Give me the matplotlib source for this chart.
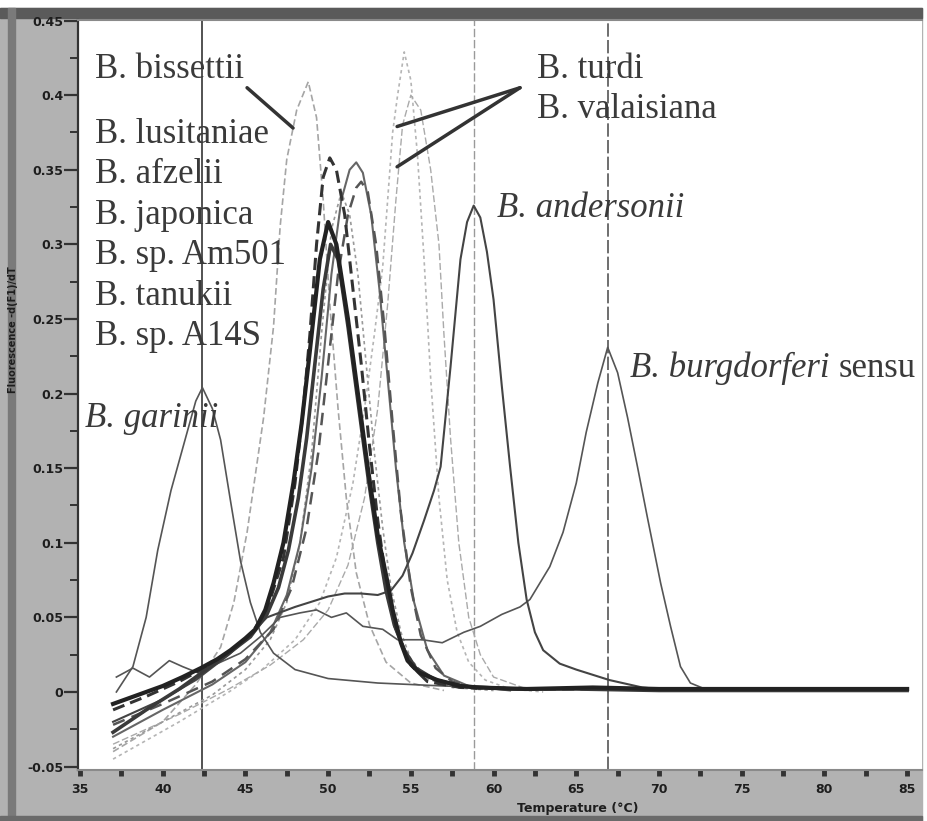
import numpy as np
import matplotlib
matplotlib.use("Agg")
import matplotlib.pyplot as plt
from matplotlib.patches import Rectangle

# melting peak data (temperature in C, -dF/dT)
garinii_t = [37.2, 38.2, 39.0, 39.7, 40.5, 41.35, 42.0, 42.4, 43.0, 43.5, 44.1, 44.7, 45.3, 45.9, 46.7, 48.0, 50.0, 53.0, 57.0, 60.0, 65.0]
garinii_v = [0.0, 0.017, 0.05, 0.095, 0.135, 0.169, 0.195, 0.204, 0.19, 0.169, 0.128, 0.088, 0.06, 0.04, 0.026, 0.015, 0.009, 0.006, 0.004, 0.003, 0.002]

bissettii_t = [37.0, 40.0, 42.0, 43.5, 44.3, 45.1, 46.1, 46.7, 47.1, 47.5, 48.1, 48.8, 49.3, 49.7, 50.1, 50.6, 51.1, 51.7, 52.5, 53.5, 55.0, 57.0]
bissettii_v = [-0.040, -0.020, 0.005, 0.030, 0.060, 0.107, 0.184, 0.245, 0.312, 0.357, 0.390, 0.409, 0.385, 0.330, 0.260, 0.190, 0.130, 0.080, 0.045, 0.020, 0.006, 0.001]

lusitaniae_t = [37.0, 39.0, 41.0, 42.5, 44.0, 45.3, 46.3, 47.3, 48.0, 48.5, 48.9, 49.3, 49.7, 50.1, 50.5, 51.0, 51.5, 52.0, 52.5, 53.0, 53.5, 54.0, 55.0, 56.0, 58.0, 62.0, 70.0, 85.0]
lusitaniae_v = [-0.012, -0.003, 0.007, 0.016, 0.026, 0.038, 0.055, 0.09, 0.14, 0.19, 0.24, 0.30, 0.345, 0.358, 0.35, 0.32, 0.27, 0.22, 0.165, 0.115, 0.075, 0.045, 0.018, 0.007, 0.003, 0.002, 0.002, 0.002]

afzelii_t = [37.0, 40.0, 43.0, 45.0, 46.5, 47.5, 48.3, 49.0, 49.6, 50.2, 50.8, 51.3, 51.7, 52.1, 52.6, 53.1, 53.6, 54.1, 54.6, 55.2, 56.0, 57.0, 58.5, 61.0]
afzelii_v = [-0.030, -0.012, 0.005, 0.02, 0.04, 0.065, 0.10, 0.15, 0.21, 0.28, 0.33, 0.35, 0.355, 0.348, 0.32, 0.27, 0.21, 0.15, 0.10, 0.06, 0.028, 0.011, 0.004, 0.001]

japonica_t = [37.0, 40.0, 43.0, 45.0, 46.7, 47.8, 48.7, 49.4, 50.0, 50.6, 51.2, 51.7, 52.0, 52.4, 52.9, 53.4, 53.9, 54.4, 55.0, 55.6, 56.5, 57.5, 59.0]
japonica_v = [-0.022, -0.008, 0.007, 0.022, 0.042, 0.07, 0.11, 0.16, 0.22, 0.28, 0.32, 0.338, 0.342, 0.335, 0.30, 0.245, 0.18, 0.12, 0.07, 0.038, 0.016, 0.007, 0.002]

am501_t = [37.0, 38.5, 40.0, 41.2, 42.3, 43.3, 44.1, 45.0, 45.6, 46.2, 46.7, 47.3, 47.9, 48.4, 48.9, 49.5, 50.0, 50.5, 51.2, 51.8, 52.4, 53.0, 53.6, 53.9, 54.4, 54.8, 55.5, 56.6, 58.0, 59.0, 62.0, 66.0, 70.0, 75.0, 80.0, 85.0]
am501_v = [-0.008, -0.002, 0.004, 0.01, 0.016, 0.022, 0.028, 0.036, 0.042, 0.055, 0.073, 0.10, 0.14, 0.18, 0.229, 0.29, 0.315, 0.30, 0.25, 0.20, 0.15, 0.105, 0.073, 0.055, 0.033, 0.021, 0.013, 0.008, 0.004, 0.003, 0.002, 0.003, 0.002, 0.002, 0.002, 0.002]

tanukii_t = [37.0, 39.0, 41.0, 42.5, 44.0, 45.3, 46.3, 47.0, 47.6, 48.2, 48.7, 49.2, 49.7, 50.15, 50.6, 51.2, 51.8, 52.4, 53.0, 53.5, 54.0, 54.6, 55.3, 56.5, 58.0, 61.0, 65.0, 70.0, 75.0, 80.0, 85.0]
tanukii_v = [-0.027, -0.012, 0.002, 0.014, 0.026, 0.037, 0.052, 0.07, 0.095, 0.13, 0.17, 0.22, 0.27, 0.30, 0.29, 0.245, 0.195, 0.145, 0.10, 0.068, 0.045, 0.028, 0.016, 0.008, 0.004, 0.002, 0.002, 0.001, 0.001, 0.001, 0.001]

a14s_t = [37.0, 40.0, 43.0, 45.0, 46.5, 47.5, 48.3, 49.0, 49.6, 50.2, 50.8, 51.3, 51.8, 52.3, 52.8, 53.3, 53.8, 54.4, 55.0, 56.0, 57.5, 60.0]
a14s_v = [-0.038, -0.02, -0.002, 0.015, 0.035, 0.06, 0.10, 0.16, 0.24, 0.31, 0.335, 0.32, 0.28, 0.22, 0.16, 0.11, 0.07, 0.04, 0.022, 0.009, 0.003, 0.001]

turdi_t = [37.0, 41.0, 44.0, 46.0, 48.0, 49.5, 50.5, 51.5, 52.2, 52.8, 53.3, 53.6, 53.9, 54.2, 54.6, 55.0, 55.4, 55.8, 56.2, 56.7, 57.2, 57.8, 58.5, 59.5, 61.0, 63.0]
turdi_v = [-0.045, -0.02, 0.0, 0.015, 0.035, 0.06, 0.09, 0.14, 0.19, 0.24, 0.285, 0.33, 0.375, 0.40, 0.429, 0.41, 0.36, 0.29, 0.21, 0.13, 0.075, 0.04, 0.02, 0.008, 0.002, 0.0]

valaisiana_t = [37.0, 41.0, 44.0, 46.5, 48.5, 50.0, 51.2, 52.2, 53.0, 53.6, 54.1, 54.5, 55.0, 55.6, 56.2, 56.7, 57.0, 57.4, 57.9, 58.5, 59.2, 60.0, 62.0]
valaisiana_v = [-0.035, -0.015, 0.002, 0.018, 0.035, 0.055, 0.085, 0.13, 0.19, 0.26, 0.33, 0.38, 0.40, 0.39, 0.35, 0.30, 0.24, 0.17, 0.10, 0.05, 0.025, 0.01, 0.002]

andersonii_t = [37.0, 40.0, 42.0, 44.0, 45.0, 46.3, 48.0, 50.0, 51.0, 52.0, 53.0, 53.8, 54.5, 55.1, 55.8, 56.4, 56.8, 57.4, 58.0, 58.4, 58.8, 59.2, 59.6, 60.0, 60.5, 61.0, 61.5, 62.0, 62.5, 63.0, 64.0, 65.0, 67.0, 69.0, 71.0]
andersonii_v = [-0.02, -0.005, 0.008, 0.025, 0.035, 0.05, 0.057, 0.064, 0.066, 0.066, 0.065, 0.068, 0.078, 0.093, 0.115, 0.135, 0.151, 0.218, 0.29, 0.315, 0.326, 0.318, 0.295, 0.263, 0.205, 0.151, 0.10, 0.062, 0.04, 0.028, 0.019, 0.015, 0.008, 0.003, 0.001]

burgdorferi_t = [37.2, 38.2, 39.2, 40.4, 41.2, 42.1, 43.3, 44.7, 45.9, 47.1, 48.3, 49.3, 50.2, 51.1, 52.1, 53.3, 54.2, 55.7, 56.9, 58.2, 59.2, 60.5, 61.6, 62.2, 63.4, 64.2, 65.0, 65.6, 66.3, 66.9, 67.5, 68.1, 68.7, 69.3, 70.1, 70.7, 71.3, 71.9, 73.0]
burgdorferi_v = [0.010, 0.016, 0.010, 0.021, 0.017, 0.013, 0.019, 0.026, 0.037, 0.050, 0.053, 0.055, 0.050, 0.053, 0.044, 0.042, 0.035, 0.035, 0.033, 0.040, 0.044, 0.052, 0.057, 0.062, 0.084, 0.107, 0.14, 0.174, 0.207, 0.231, 0.214, 0.184, 0.151, 0.117, 0.073, 0.044, 0.017, 0.006, 0.001]

# peak marker lines
marker_temps = [42.4, 58.8, 66.9]

# labels
cluster_labels = ["B. lusitaniae", "B. afzelii", "B. japonica", "B. sp. Am501", "B. tanukii", "B. sp. A14S"]
y_tick_vals = [-0.05, 0, 0.05, 0.1, 0.15, 0.2, 0.25, 0.3, 0.35, 0.4, 0.45]
y_tick_labels = ["-0.05", "0", "0.05", "0.1", "0.15", "0.2", "0.25", "0.3", "0.35", "0.4", "0.45"]
x_tick_vals = [35, 40, 45, 50, 55, 60, 65, 70, 75, 80, 85]

W, H = 927, 821
fig = plt.figure(figsize=(W / 100, H / 100), dpi=100)
fig.patch.set_facecolor("white")

# scanned gray frame around the plot (behind the axes)
def frame_rect(x0, y0, w, h, col):
    fig.add_artist(Rectangle((x0 / W, 1 - (y0 + h) / H), w / W, h / H, transform=fig.transFigure,
                             color=col, zorder=-10))

frame_rect(0, 8, 922, 813, "#b2b2b2")
frame_rect(0, 8, 922, 10, "#5a5a5a")
frame_rect(8, 8, 7, 813, "#7a7a7a")
frame_rect(0, 816, 922, 5, "#6a6a6a")

ax = fig.add_axes([78 / W, 1 - 770 / H, (922 - 78) / W, (770 - 20) / H])
ax.set_zorder(1)
ax.set_facecolor("white")
ax.set_xlim(34.88, 85.9)
ax.set_ylim(-0.0523, 0.4504)

# vertical peak markers
ax.axvline(marker_temps[0], color="#444444", lw=1.3, zorder=1)
ax.axvline(marker_temps[1], color="#9a9a9a", lw=1.0, ls=(0, (6, 2)), zorder=1)
ax.axvline(marker_temps[2], color="#555555", lw=1.2, ls=(0, (8, 2)), zorder=1)

# the curves, grayscale like the scan
ax.plot(turdi_t, turdi_v, color="#b5b5b5", lw=1.2, ls=(0, (2, 2)))
ax.plot(valaisiana_t, valaisiana_v, color="#aaaaaa", lw=1.0, ls=(0, (5, 2)))
ax.plot(bissettii_t, bissettii_v, color="#a5a5a5", lw=1.2, ls=(0, (4, 2)))
ax.plot(a14s_t, a14s_v, color="#999999", lw=1.2, ls=(0, (2, 2)))
ax.plot(afzelii_t, afzelii_v, color="#666666", lw=1.5)
ax.plot(japonica_t, japonica_v, color="#555555", lw=1.8, ls=(0, (5, 3)))
ax.plot(garinii_t, garinii_v, color="#555555", lw=1.2)
ax.plot(burgdorferi_t, burgdorferi_v, color="#555555", lw=1.2)
ax.plot(andersonii_t, andersonii_v, color="#444444", lw=1.5)
ax.plot(lusitaniae_t, lusitaniae_v, color="#333333", lw=2.2, ls=(0, (4, 2)))
ax.plot(tanukii_t, tanukii_v, color="#3a3a3a", lw=2.6)
ax.plot(am501_t, am501_v, color="#222222", lw=3.0)

# axis styling
ax.set_yticks(y_tick_vals)
ax.set_yticklabels(y_tick_labels)
ax.set_yticks(np.arange(-0.025, 0.45, 0.05), minor=True)
ax.set_xticks(x_tick_vals)
ax.set_xticks(np.arange(37.5, 86, 5), minor=True)
ax.tick_params(axis="y", which="major", direction="out", length=10, width=1.6, color="#333333",
               labelsize=9, labelcolor="#1e1e1e", pad=0.5)
ax.tick_params(axis="y", which="minor", direction="out", length=6, width=1.4, color="#333333")
ax.tick_params(axis="x", which="both", direction="out", length=4, width=3.5, color="#333333",
               labelsize=9, labelcolor="#1e1e1e", pad=5)
for lab in ax.get_xticklabels() + ax.get_yticklabels():
    lab.set_fontweight("bold")
ax.spines["right"].set_visible(False)
ax.spines["left"].set_color("#333333")
ax.spines["left"].set_linewidth(1.6)
ax.spines["bottom"].set_color("#8a8a8a")
ax.spines["bottom"].set_linewidth(1.5)
ax.spines["top"].set_color("#8a8a8a")
ax.spines["top"].set_linewidth(1.5)

fig.text(578 / W, 1 - 808 / H, "Temperature (°C)", fontsize=9, fontweight="bold", color="#1e1e1e",
         ha="center", va="center")
fig.text(13 / W, 1 - 330 / H, "Fluorescence -d(F1)/dT", fontsize=7, fontweight="bold", color="#1e1e1e",
         ha="center", va="center", rotation=90)

# species labels
serif = "Liberation Serif"
tcol = "#3a3a3a"
fs = 25
ax.text(35.9, 0.4115, "B. bissettii", family=serif, fontsize=fs, color=tcol, va="baseline")
for k, name in enumerate(cluster_labels):
    ax.text(35.9, 0.368 - k * 0.0271, name, family=serif, fontsize=fs, color=tcol, va="baseline")
ax.text(62.63, 0.4115, "B. turdi", family=serif, fontsize=fs, color=tcol, va="baseline")
ax.text(62.63, 0.3847, "B. valaisiana", family=serif, fontsize=fs, color=tcol, va="baseline")
ax.text(35.3, 0.1776, "B. garinii", family=serif, fontsize=fs, color=tcol, style="italic", va="baseline")
ax.text(60.21, 0.3184, "B. andersonii", family=serif, fontsize=fs, color=tcol, style="italic", va="baseline")
t = ax.text(68.25, 0.2111, "B. burgdorferi ", family=serif, fontsize=fs, color=tcol, style="italic", va="baseline")
fig.canvas.draw()
bb = t.get_window_extent()
x_end = ax.transData.inverted().transform((bb.x1, bb.y0))[0]
ax.text(x_end, 0.2111, "sensu", family=serif, fontsize=fs, color=tcol, va="baseline", clip_on=True)

# pointer lines
ax.plot([45.1, 47.88], [0.405, 0.378], color="#333333", lw=2.5, solid_capstyle="round")
ax.plot([61.6, 54.17], [0.405, 0.379], color="#333333", lw=2.5, solid_capstyle="round")
ax.plot([61.6, 54.17], [0.405, 0.352], color="#333333", lw=2.5, solid_capstyle="round")

fig.savefig("out.png", dpi=100, facecolor=fig.get_facecolor())
